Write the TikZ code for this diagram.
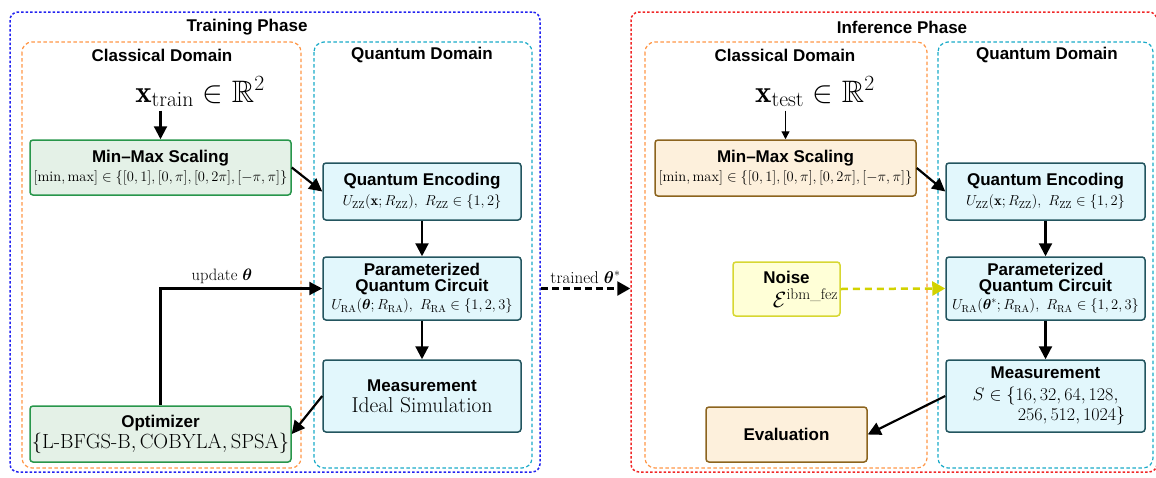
\RequirePackage{fix-cm}
\documentclass[tikz,border=0pt]{standalone}
\usepackage{amsmath}
\usepackage{amssymb}
\usepackage{fontspec}
\newfontfamily\hsans{Liberation Sans}[Ligatures=TeX]
\usetikzlibrary{arrows.meta}

\definecolor{trainblue}{RGB}{35,35,240}
\definecolor{inferred}{RGB}{240,40,40}
\definecolor{classorange}{RGB}{255,150,70}
\definecolor{quantcyan}{RGB}{25,170,200}
\definecolor{greenfill}{RGB}{228,241,231}
\definecolor{greenline}{RGB}{40,150,75}
\definecolor{cyanfill}{RGB}{226,247,252}
\definecolor{cyanline}{RGB}{35,85,95}
\definecolor{tanfill}{RGB}{253,240,220}
\definecolor{tanline}{RGB}{140,100,30}
\definecolor{noisefill}{RGB}{255,255,215}
\definecolor{noiseline}{RGB}{215,215,50}
\definecolor{noisearrow}{RGB}{210,210,0}

\newcommand\hd{\hsans\bfseries\fontsize{17}{20}\selectfont}
\newcommand\ms{\fontsize{14.5}{18}\selectfont}
\newcommand\mb{\fontsize{20.5}{23}\selectfont}

\begin{document}
\begin{tikzpicture}[x=1pt,y=-1pt,
  phasebox/.style={draw, line width=1.5pt, dash pattern=on 2.5pt off 2pt, rounded corners=8pt},
  domainbox/.style={draw, line width=1.2pt, dash pattern=on 3.5pt off 2.5pt, rounded corners=10pt},
  ttl/.style={font=\hd, inner sep=0pt},
  stepbox/.style={draw, line width=1.5pt, rounded corners=3pt, align=center, inner sep=1pt, font=\ms},
  trainbox/.style={stepbox, fill=greenfill, draw=greenline, minimum width=261pt},
  qbox/.style={stepbox, fill=cyanfill, draw=cyanline, minimum width=198pt},
  tanbox/.style={stepbox, fill=tanfill, draw=tanline},
  flow/.style={-{Triangle[length=13pt,width=13pt]}, line width=2.2pt}]
\useasboundingbox (0,0) rectangle (1156,477);

% phases and domains
\node[phasebox, draw=trainblue, minimum width=530pt, minimum height=460pt] (train) at (275,242) {};
\node[phasebox, draw=inferred, minimum width=526pt, minimum height=460pt] (infer) at (894,242) {};
\node[ttl] at (247,27.5) {Training Phase};
\node[ttl] at (902,27.5) {Inference Phase};

\draw[domainbox, draw=classorange] (22,42) rectangle (301,468);
\draw[domainbox, draw=quantcyan] (314,42) rectangle (532,468);
\draw[domainbox, draw=classorange] (645,42) rectangle (927,468);
\draw[domainbox, draw=quantcyan] (938,42) rectangle (1153,468);
\node[ttl] at (162,55) {Classical Domain};
\node[ttl] at (422,55) {Quantum Domain};
\node[ttl] at (785,55) {Classical Domain};
\node[ttl] at (1047,55) {Quantum Domain};

% training
\node[font=\fontsize{31}{33}\selectfont] (xtrain) at (200,92) {$\mathbf{x}_{\mathrm{train}}\in\mathbb{R}^2$};
\node[trainbox, minimum height=55pt] (mm1) at (160.5,167.5)
  {{\hd Min--Max Scaling}\\[1pt] $[\min,\max]\in\{[0,1],[0,\pi],[0,2\pi],[-\pi,\pi]\}$};
\node[qbox, minimum height=57pt] (qe1) at (422,191.5)
  {{\hd Quantum Encoding}\\[2pt] $U_{\mathrm{ZZ}}(\mathbf{x};R_{\mathrm{ZZ}}),\ R_{\mathrm{ZZ}}\in\{1,2\}$};
\node[qbox, minimum height=63pt] (pqc1) at (422,288.5)
  {{\hd Parameterized}\\[-2pt]{\hd Quantum Circuit}\\ $U_{\mathrm{RA}}(\boldsymbol{\theta};R_{\mathrm{RA}}),\ R_{\mathrm{RA}}\in\{1,2,3\}$};
\node[qbox, minimum height=72pt] (meas1) at (422,396)
  {{\hd Measurement}\\[3pt] {\fontsize{21.5}{24}\selectfont Ideal Simulation}};
\node[trainbox, minimum height=56pt] (opt1) at (160.5,434)
  {{\hd Optimizer}\\[1pt] {\mb $\{\mathrm{L\text{-}BFGS\text{-}B},\mathrm{COBYLA},\mathrm{SPSA}\}$}};

\draw[flow] (mm1.north |- xtrain.south) -- (mm1.north);
\draw[flow] (mm1.east) -- (qe1.west);
\draw[flow] (qe1) -- (pqc1);
\draw[flow] (pqc1) -- (meas1);
\draw[flow] (meas1.west) -- (opt1.east);
\draw[flow] (opt1.north) |- node[pos=0.69, above, font=\fontsize{16.5}{18}\selectfont] {update $\boldsymbol{\theta}$} (pqc1.west);

\draw[-{Triangle[length=13pt,width=14pt]}, line width=2.5pt, dash pattern=on 7pt off 4pt]
  (train.east |- pqc1.west) -- node[above, font=\fontsize{17}{18}\selectfont] {trained $\boldsymbol{\theta}^{*}$} (infer.west |- pqc1.west);

% inference
\node[font=\fontsize{31}{33}\selectfont] (xtest) at (815,92) {$\mathbf{x}_{\mathrm{test}}\in\mathbb{R}^2$};
\node[tanbox, minimum width=261pt, minimum height=56pt] (mm2) at (785.5,168)
  {{\hd Min--Max Scaling}\\[1pt] $[\min,\max]\in\{[0,1],[0,\pi],[0,2\pi],[-\pi,\pi]\}$};
\node[qbox, minimum width=199pt, minimum height=57pt] (qe2) at (1045.5,191.5)
  {{\hd Quantum Encoding}\\[2pt] $U_{\mathrm{ZZ}}(\mathbf{x};R_{\mathrm{ZZ}}),\ R_{\mathrm{ZZ}}\in\{1,2\}$};
\node[qbox, minimum width=199pt, minimum height=63pt] (pqc2) at (1045.5,288.5)
  {{\hd Parameterized}\\[-2pt]{\hd Quantum Circuit}\\ $U_{\mathrm{RA}}(\boldsymbol{\theta}^{*};R_{\mathrm{RA}}),\ R_{\mathrm{RA}}\in\{1,2,3\}$};
\node[qbox, minimum width=199pt, minimum height=72pt, font=\fontsize{18}{20}\selectfont] (meas2) at (1045.5,396)
  {{\hd Measurement}\\[2pt] $S\in\{16,32,64,128,$\\[0pt] \hspace*{52pt}$256,512,1024\}$};
\node[stepbox, fill=noisefill, draw=noiseline, minimum width=107pt, minimum height=54pt] (noise) at (786.5,289)
  {{\hd Noise}\\[4pt] {\fontsize{22}{20}\selectfont\hspace*{38pt}$\mathcal{E}^{\mathrm{ibm\_fez}}$}};
\node[tanbox, minimum width=161pt, minimum height=55pt, font=\hd] (eval) at (786.5,434.5) {Evaluation};

\draw[-{Triangle[length=8pt,width=8pt]}, line width=1.2pt] (mm2.north |- xtest.south) -- (mm2.north);
\draw[flow] (mm2.east) -- (qe2.west);
\draw[flow] (qe2) -- (pqc2);
\draw[flow] (pqc2) -- (meas2);
\draw[flow] (meas2.west) -- (eval.east);
\draw[-{Triangle[length=13pt,width=14pt]}, noisearrow, line width=2.5pt, dash pattern=on 7pt off 5pt] (noise.east) -- (pqc2.west);
\end{tikzpicture}
\end{document}
